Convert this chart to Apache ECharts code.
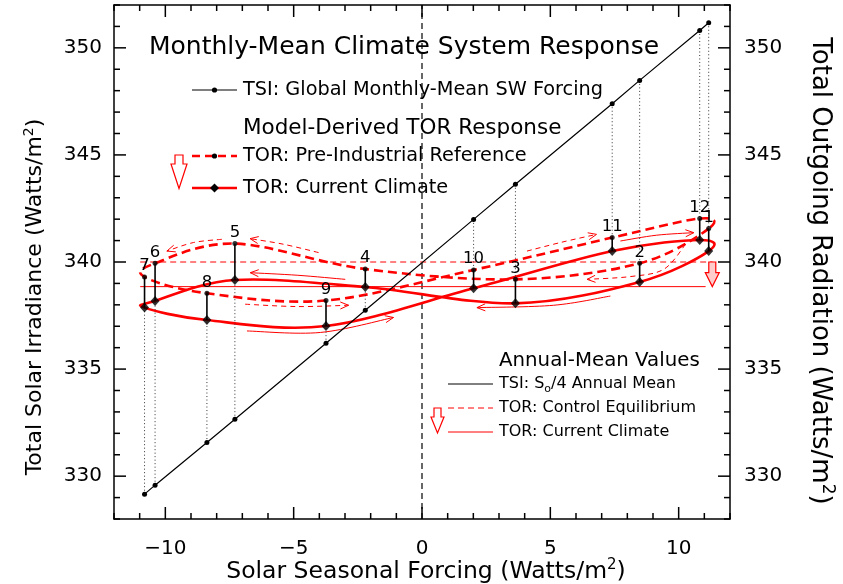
<!DOCTYPE html>
<html>
<head>
<meta charset="utf-8">
<script src="https://cdn.jsdelivr.net/npm/echarts@6/dist/echarts.min.js"></script>
<style>
  html, body { margin: 0; padding: 0; background: #fff; }
  #chart { width: 843px; height: 584px; }
</style>
</head>
<body>
<div id="chart"></div>
<script>
// Monthly values, January (1) through December (12)
const months = ['1', '2', '3', '4', '5', '6', '7', '8', '9', '10', '11', '12'];
const seasonalForcing = [11.17, 8.48, 3.64, -2.21, -7.29, -10.40, -10.81, -8.38, -3.74, 2.01, 7.41, 10.82];
const tsiMonthly = [351.17, 348.48, 343.63, 337.75, 332.66, 329.58, 329.16, 331.57, 336.21, 341.99, 347.39, 350.81];
const torPreIndustrial = [341.56, 339.94, 339.19, 339.67, 340.86, 339.94, 339.30, 338.54, 338.20, 339.63, 341.14, 342.03];
const torCurrent = [340.51, 339.07, 338.07, 338.83, 339.16, 338.18, 337.87, 337.29, 337.01, 338.77, 340.51, 341.03];

// Annual-mean reference levels
const controlEquilibrium = 340.0;
const currentAnnualMean = 338.85;
const controlSpan = [-10.98, 11.32];
const currentSpan = [-10.98, 11.05];
const annualShiftX = 11.31;

// Axis ranges and labelled ticks
const xRange = [-12, 12];
const yRange = [328, 352];
const xMajorTicks = [-10, -5, 0, 5, 10];
const yMajorTicks = [330, 335, 340, 345, 350];

// Direction-of-travel arrows along the seasonal loops (data coordinates)
const preArrows = [
  [[-4.03, 340.44], [-5.40, 340.83], [-6.70, 341.09]],
  [[-7.80, 341.06], [-8.90, 340.91], [-9.94, 340.51]],
  [[-6.89, 338.03], [-4.87, 337.92], [-2.86, 337.98]],
  [[4.09, 340.51], [5.43, 340.92], [6.80, 341.29]],
  [[10.27, 340.83], [9.42, 339.66], [8.12, 339.32], [6.43, 339.19]]
];
const currentArrows = [
  [[-2.99, 339.19], [-4.84, 339.38], [-6.69, 339.50]],
  [[-6.82, 336.78], [-3.96, 336.71], [-1.11, 337.41]],
  [[7.34, 338.41], [5.13, 337.98], [2.14, 337.87]],
  [[7.73, 340.98], [9.13, 341.25], [10.59, 341.37]]
];

const FONT = 'DejaVu Sans';
const RED = '#ff0000';

// Catmull-Rom spline through pixel points, as SVG path data
function splinePath(pts, closed) {
  const n = pts.length;
  const get = (i) => closed ? pts[(i + n) % n] : pts[Math.max(0, Math.min(n - 1, i))];
  let d = 'M' + pts[0][0] + ',' + pts[0][1];
  const segs = closed ? n : n - 1;
  for (let i = 0; i < segs; i++) {
    const p0 = get(i - 1), p1 = get(i), p2 = get(i + 1), p3 = get(i + 2);
    const c1 = [p1[0] + (p2[0] - p0[0]) / 6, p1[1] + (p2[1] - p0[1]) / 6];
    const c2 = [p2[0] - (p3[0] - p1[0]) / 6, p2[1] - (p3[1] - p1[1]) / 6];
    d += ' C' + c1[0] + ',' + c1[1] + ' ' + c2[0] + ',' + c2[1] + ' ' + p2[0] + ',' + p2[1];
  }
  if (closed) d += ' Z';
  return d;
}

function loopSeries(values, dash) {
  return {
    type: 'custom',
    z: 2,
    silent: true,
    data: [[seasonalForcing[0], values[0]]],
    renderItem: function (params, api) {
      const pts = seasonalForcing.map((x, i) => api.coord([x, values[i]]));
      return {
        type: 'path',
        shape: { pathData: splinePath(pts, true) },
        style: { stroke: RED, lineWidth: 2.6, fill: 'none', lineDash: dash }
      };
    }
  };
}

function arrowSeries(list, dash) {
  return {
    type: 'custom',
    z: 2,
    silent: true,
    data: list.map(a => a[a.length - 1]),
    renderItem: function (params, api) {
      const pts = list[params.dataIndex].map(p => api.coord(p));
      const e = pts[pts.length - 1], b = pts[pts.length - 2];
      const ang = Math.atan2(e[1] - b[1], e[0] - b[0]);
      const L = 9, spread = 0.4;
      const a1 = [e[0] - L * Math.cos(ang - spread), e[1] - L * Math.sin(ang - spread)];
      const a2 = [e[0] - L * Math.cos(ang + spread), e[1] - L * Math.sin(ang + spread)];
      return {
        type: 'group',
        children: [
          { type: 'path', shape: { pathData: splinePath(pts, false) },
            style: { stroke: RED, lineWidth: 1, fill: 'none', lineDash: dash } },
          { type: 'polyline', shape: { points: [a1, e, a2] },
            style: { stroke: RED, lineWidth: 1, fill: 'none' } }
        ]
      };
    }
  };
}

// Inward tick marks on all four frame edges (major every 5, minor every 1)
function tickValues(range) {
  const out = [];
  for (let v = Math.ceil(range[0]); v <= range[1]; v++) out.push(v);
  return out;
}
const xTickVals = tickValues(xRange);
const yTickVals = tickValues(yRange);

function xTickSeries() {
  return {
    type: 'custom', z: 10, silent: true,
    data: xTickVals.map(v => [v, yRange[0]]),
    renderItem: function (params, api) {
      const v = xTickVals[params.dataIndex];
      const len = xMajorTicks.indexOf(v) >= 0 ? 12 : 6;
      const b = api.coord([v, yRange[0]]), t = api.coord([v, yRange[1]]);
      const s = { stroke: '#000', lineWidth: 1.5 };
      return { type: 'group', children: [
        { type: 'line', shape: { x1: b[0], y1: b[1], x2: b[0], y2: b[1] - len }, style: s },
        { type: 'line', shape: { x1: t[0], y1: t[1], x2: t[0], y2: t[1] + len }, style: s }
      ] };
    }
  };
}
function yTickSeries() {
  return {
    type: 'custom', z: 10, silent: true,
    data: yTickVals.map(v => [xRange[0], v]),
    renderItem: function (params, api) {
      const v = yTickVals[params.dataIndex];
      const len = yMajorTicks.indexOf(v) >= 0 ? 12 : 6;
      const l = api.coord([xRange[0], v]), r = api.coord([xRange[1], v]);
      const s = { stroke: '#000', lineWidth: 1.5 };
      return { type: 'group', children: [
        { type: 'line', shape: { x1: l[0], y1: l[1], x2: l[0] + len, y2: l[1] }, style: s },
        { type: 'line', shape: { x1: r[0], y1: r[1], x2: r[0] - len, y2: r[1] }, style: s }
      ] };
    }
  };
}

// TSI points ordered along the forcing axis
const tsiOrder = seasonalForcing.map((x, i) => i).sort((a, b) => seasonalForcing[a] - seasonalForcing[b]);
const tsiLine = tsiOrder.map(i => [seasonalForcing[i], tsiMonthly[i]]);

const axisLineStyle = { onZero: false, lineStyle: { color: '#000', width: 1.5 } };
const fmtTick = (v) => (v % 5 === 0 ? (v < 0 ? '\u2212' + Math.abs(v) : String(v)) : '');
const labelStyle = { fontSize: 20, fontFamily: FONT, color: '#000' };

function supText(size) {
  return { sup: { fontSize: Math.round(size * 0.64), verticalAlign: 'top', padding: [0, 0, Math.round(size * 0.55), 0], fontFamily: FONT, fill: '#000', color: '#000' } };
}

const option = {
  backgroundColor: '#fff',
  animation: false,
  grid: { left: 114, right: 113, top: 5, bottom: 65, containLabel: false, outerBoundsMode: 'none' },
  xAxis: [
    {
      type: 'value', position: 'bottom', min: xRange[0], max: xRange[1], interval: 1,
      axisLine: axisLineStyle, axisTick: { show: false }, splitLine: { show: false },
      axisLabel: Object.assign({ formatter: fmtTick, margin: 20 }, labelStyle)
    },
    {
      type: 'value', position: 'top', min: xRange[0], max: xRange[1], interval: 1,
      axisLine: axisLineStyle, axisTick: { show: false }, splitLine: { show: false },
      axisLabel: { show: false }
    }
  ],
  yAxis: [
    {
      type: 'value', position: 'left', min: yRange[0], max: yRange[1], interval: 1,
      axisLine: axisLineStyle, axisTick: { show: false }, splitLine: { show: false },
      axisLabel: Object.assign({ formatter: fmtTick, margin: 12 }, labelStyle)
    },
    {
      type: 'value', position: 'right', min: yRange[0], max: yRange[1], interval: 1,
      axisLine: axisLineStyle, axisTick: { show: false }, splitLine: { show: false },
      axisLabel: Object.assign({ formatter: fmtTick, margin: 14 }, labelStyle)
    }
  ],
  graphic: [
    // Axis titles
    { type: 'text', x: 426, y: 572,
      style: { text: 'Solar Seasonal Forcing (Watts/m{sup|2})', font: '23.5px "DejaVu Sans"', fill: '#000', align: 'center', verticalAlign: 'middle', rich: supText(23.5) } },
    { type: 'text', x: 35, y: 297, rotation: Math.PI / 2,
      style: { text: 'Total Solar Irradiance (Watts/m{sup|2})', font: '22px "DejaVu Sans"', fill: '#000', align: 'center', verticalAlign: 'middle', rich: supText(22) } },
    { type: 'text', x: 820, y: 271, rotation: -Math.PI / 2,
      style: { text: 'Total Outgoing Radiation (Watts/m{sup|2})', font: '26px "DejaVu Sans"', fill: '#000', align: 'center', verticalAlign: 'middle', rich: supText(26) } },

    // Monthly-mean key
    { type: 'text', x: 404, y: 47, style: { text: 'Monthly-Mean Climate System Response', font: '25px "DejaVu Sans"', fill: '#000', align: 'center', verticalAlign: 'middle' } },
    { type: 'line', shape: { x1: 192, y1: 90, x2: 237, y2: 90 }, style: { stroke: '#000', lineWidth: 1.2 } },
    { type: 'circle', shape: { cx: 214.5, cy: 90, r: 2.6 }, style: { fill: '#000' } },
    { type: 'text', x: 243, y: 90, style: { text: 'TSI: Global Monthly-Mean SW Forcing', font: '19.3px "DejaVu Sans"', fill: '#000', align: 'left', verticalAlign: 'middle' } },
    { type: 'text', x: 243, y: 128, style: { text: 'Model-Derived TOR Response', font: '21.5px "DejaVu Sans"', fill: '#000', align: 'left', verticalAlign: 'middle' } },
    { type: 'line', shape: { x1: 192, y1: 156, x2: 237, y2: 156 }, style: { stroke: RED, lineWidth: 2.6, lineDash: [8, 5] } },
    { type: 'circle', shape: { cx: 214.5, cy: 156, r: 2.6 }, style: { fill: '#000' } },
    { type: 'text', x: 243, y: 156, style: { text: 'TOR: Pre-Industrial Reference', font: '19.3px "DejaVu Sans"', fill: '#000', align: 'left', verticalAlign: 'middle' } },
    { type: 'line', shape: { x1: 192, y1: 188, x2: 237, y2: 188 }, style: { stroke: RED, lineWidth: 2.6 } },
    { type: 'polygon', shape: { points: [[214.5, 183.5], [219, 188], [214.5, 192.5], [210, 188]] }, style: { fill: '#000' } },
    { type: 'text', x: 243, y: 188, style: { text: 'TOR: Current Climate', font: '19.3px "DejaVu Sans"', fill: '#000', align: 'left', verticalAlign: 'middle' } },
    { type: 'polygon', shape: { points: [[175, 155], [183, 155], [183, 164], [187, 164], [179, 188.5], [171, 164], [175, 164]] },
      style: { fill: '#fff', stroke: RED, lineWidth: 1.2 } },

    // Annual-mean key
    { type: 'text', x: 499, y: 361, style: { text: 'Annual-Mean Values', font: '19.8px "DejaVu Sans"', fill: '#000', align: 'left', verticalAlign: 'middle' } },
    { type: 'line', shape: { x1: 448, y1: 384, x2: 493, y2: 384 }, style: { stroke: '#000', lineWidth: 1 } },
    { type: 'text', x: 499, y: 384, style: { text: 'TSI: S{sub|o}/4 Annual Mean', font: '16px "DejaVu Sans"', fill: '#000', align: 'left', verticalAlign: 'middle',
      rich: { sub: { fontSize: 11, fontFamily: FONT, fill: '#000', verticalAlign: 'bottom', padding: [10, 0, 0, 0] } } } },
    { type: 'line', shape: { x1: 448, y1: 408, x2: 493, y2: 408 }, style: { stroke: RED, lineWidth: 1, lineDash: [6, 4] } },
    { type: 'text', x: 499, y: 408, style: { text: 'TOR: Control Equilibrium', font: '16px "DejaVu Sans"', fill: '#000', align: 'left', verticalAlign: 'middle' } },
    { type: 'line', shape: { x1: 448, y1: 432, x2: 493, y2: 432 }, style: { stroke: RED, lineWidth: 1 } },
    { type: 'text', x: 499, y: 432, style: { text: 'TOR: Current Climate', font: '16px "DejaVu Sans"', fill: '#000', align: 'left', verticalAlign: 'middle' } },
    { type: 'polygon', shape: { points: [[434, 408], [441, 408], [441, 417], [444, 417], [437.5, 433], [431, 417], [434, 417]] },
      style: { fill: '#fff', stroke: RED, lineWidth: 1.2 } }
  ],
  series: [
    xTickSeries(),
    yTickSeries(),
    // Zero-forcing marker
    {
      type: 'line', z: 1, silent: true, symbol: 'none',
      data: [[0, yRange[0]], [0, yRange[1]]],
      lineStyle: { color: '#000', width: 1.2, type: [6, 4] }
    },
    // Annual-mean reference levels
    {
      type: 'line', z: 3, silent: true, symbol: 'none',
      data: [[controlSpan[0], controlEquilibrium], [controlSpan[1], controlEquilibrium]],
      lineStyle: { color: RED, width: 1, type: [6, 4] }
    },
    {
      type: 'line', z: 3, silent: true, symbol: 'none',
      data: [[currentSpan[0], currentAnnualMean], [currentSpan[1], currentAnnualMean]],
      lineStyle: { color: RED, width: 1 }
    },
    // Seasonal loops
    loopSeries(torPreIndustrial, [9, 5]),
    loopSeries(torCurrent, null),
    arrowSeries(preArrows, [5, 4]),
    arrowSeries(currentArrows, null),
    // Annual-mean shift arrow
    {
      type: 'custom', z: 4, silent: true,
      data: [[annualShiftX, controlEquilibrium]],
      renderItem: function (params, api) {
        const t = api.coord([annualShiftX, controlEquilibrium]);
        const b = api.coord([annualShiftX, currentAnnualMean]);
        const x = t[0], hh = 14, sw = 3.5, hw = 7;
        return {
          type: 'polygon',
          shape: { points: [[x - sw, t[1]], [x + sw, t[1]], [x + sw, b[1] - hh], [x + hw, b[1] - hh], [x, b[1]], [x - hw, b[1] - hh], [x - sw, b[1] - hh]] },
          style: { fill: '#ffcccc', stroke: RED, lineWidth: 1.2 }
        };
      }
    },
    // Monthly connectors: TSI to nearest TOR (dotted) and pre-industrial to current (solid)
    {
      type: 'custom', z: 5, silent: true,
      data: seasonalForcing.map((x, i) => [x, tsiMonthly[i]]),
      renderItem: function (params, api) {
        const i = params.dataIndex;
        const x = seasonalForcing[i];
        const hi = Math.max(torPreIndustrial[i], torCurrent[i]);
        const lo = Math.min(torPreIndustrial[i], torCurrent[i]);
        const near = tsiMonthly[i] > hi ? hi : lo;
        const a = api.coord([x, tsiMonthly[i]]), b = api.coord([x, near]);
        const p = api.coord([x, torPreIndustrial[i]]), c = api.coord([x, torCurrent[i]]);
        return { type: 'group', children: [
          { type: 'line', shape: { x1: a[0], y1: a[1], x2: b[0], y2: b[1] }, style: { stroke: '#333', lineWidth: 1, lineDash: [1, 2.5] } },
          { type: 'line', shape: { x1: p[0], y1: p[1], x2: c[0], y2: c[1] }, style: { stroke: '#000', lineWidth: 1.6 } }
        ] };
      }
    },
    // Monthly TSI forcing
    {
      type: 'line', z: 6, silent: true,
      data: tsiLine,
      symbol: 'circle', symbolSize: 5, showSymbol: true,
      itemStyle: { color: '#000' },
      lineStyle: { color: '#000', width: 1.2 }
    },
    // Pre-industrial TOR points
    {
      type: 'scatter', z: 7, silent: true,
      data: seasonalForcing.map((x, i) => [x, torPreIndustrial[i]]),
      symbol: 'circle', symbolSize: 5,
      itemStyle: { color: '#000' }
    },
    // Current-climate TOR points
    {
      type: 'scatter', z: 7, silent: true,
      data: seasonalForcing.map((x, i) => [x, torCurrent[i]]),
      symbol: 'diamond', symbolSize: [9, 10],
      itemStyle: { color: '#000' }
    },
    // Month numbers above the pre-industrial points
    {
      type: 'custom', z: 9, silent: true,
      data: seasonalForcing.map((x, i) => [x, torPreIndustrial[i]]),
      renderItem: function (params, api) {
        const i = params.dataIndex;
        const p = api.coord([seasonalForcing[i], torPreIndustrial[i]]);
        return { type: 'text', x: p[0], y: p[1] - 11,
          style: { text: months[i], font: '16.5px "DejaVu Sans"', fill: '#000', align: 'center', verticalAlign: 'middle' } };
      }
    }
  ]
};

const chart = echarts.init(document.getElementById('chart'), null, { renderer: 'canvas' });
chart.setOption(option);
</script>
</body>
</html>
